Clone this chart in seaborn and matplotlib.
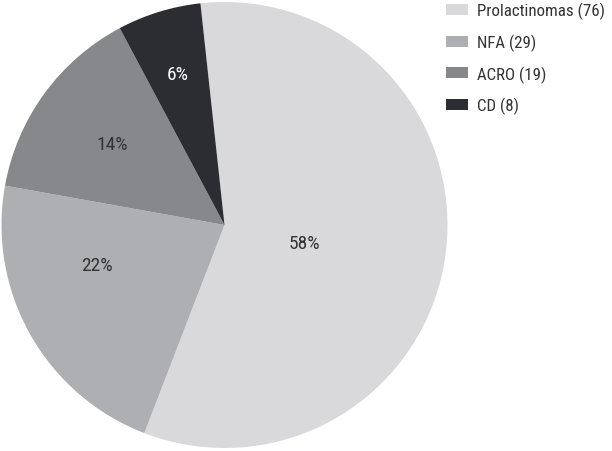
import numpy as np
import matplotlib
matplotlib.use("Agg")
import matplotlib.pyplot as plt
import seaborn as sns
from matplotlib import font_manager

categorias = ["Prolactinomas", "NFA", "ACRO", "CD"]
casos = [76, 29, 19, 8]
cores = ["#d9d9db", "#aeafb3", "#87888c", "#2b2d33"]
cor_texto = ["#333333", "#333333", "#333333", "#ffffff"]
dist_rotulo = [0.37, 0.6, 0.62, 0.71]
desvio_ang = [-5.5, -12, 0, 0]

sns.set_theme(style="white")
# procura uma fonte estreita, senao usa Liberation Sans
nomes = {f.name for f in font_manager.fontManager.ttflist}
condensadas = {f.name for f in font_manager.fontManager.ttflist
               if str(f.stretch) in ("condensed", "semi-condensed", "extra-condensed")}
fonte = "Liberation Sans"
estica = "normal"
for cand in ["Liberation Sans Narrow", "Roboto Condensed", "Open Sans Condensed",
             "Noto Sans Condensed", "DejaVu Sans Condensed"]:
    if cand in nomes:
        fonte = cand
        break
else:
    for cand in ["Roboto", "Open Sans", "Noto Sans", "DejaVu Sans"]:
        if cand in condensadas:
            fonte = cand
            estica = "condensed"
            break
plt.rcParams["font.family"] = [fonte, "DejaVu Sans"]
plt.rcParams["font.stretch"] = estica
estreita = fonte != "Liberation Sans"
tam_pct = 14 if estreita else 12
tam_leg = 12.2 if estreita else 11

fig = plt.figure(figsize=(6.12, 4.52), dpi=100)
ax = fig.add_axes([1.5 / 612, 3 / 452, 446 / 612, 446 / 452])

total = sum(casos)
fatias, _ = ax.pie(casos, colors=cores, startangle=96.2, counterclock=False,
                   radius=1, wedgeprops=dict(linewidth=0))
for w, n, d, da, c in zip(fatias, casos, dist_rotulo, desvio_ang, cor_texto):
    ang = np.deg2rad((w.theta1 + w.theta2) / 2 + da)
    ax.text(d * np.cos(ang), d * np.sin(ang), f"{round(n / total * 100):.0f}%",
            ha="center", va="center", fontsize=tam_pct, color=c)
ax.set_xlim(-1, 1)
ax.set_ylim(-1, 1)
ax.set_aspect("equal")
ax.axis("off")

rotulos = [f"{c} ({n})" for c, n in zip(categorias, casos)]
fig.legend(fatias, rotulos, loc="upper left", bbox_to_anchor=(446 / 612, 1 - 3 / 452),
           frameon=False, fontsize=tam_leg, handlelength=1.3, handleheight=0.62,
           handletextpad=0.55, labelspacing=0.85, borderpad=0, borderaxespad=0,
           labelcolor="#333333")

fig.savefig("out.png", dpi=100)
